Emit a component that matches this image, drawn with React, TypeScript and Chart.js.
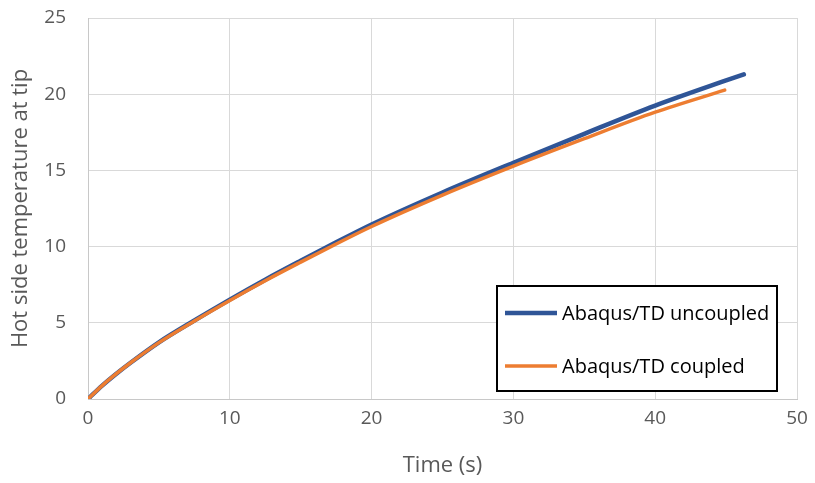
import React, { useEffect, useRef } from "react";
import { Chart, registerables } from "chart.js";

Chart.register(...registerables);

const timeUncoupled = [0, 1, 2, 3, 5, 7.5, 10, 12.5, 15, 17.5, 20, 25, 30, 35, 40, 45, 46.25];
const tempUncoupled = [0, 0.88, 1.66, 2.38, 3.72, 5.15, 6.52, 7.83, 9.07, 10.28, 11.45, 13.55, 15.5, 17.4, 19.25, 20.9, 21.3];

const timeCoupled = [0, 1, 2, 3, 5, 7.5, 10, 12.5, 15, 17.5, 20, 25, 30, 35, 40, 44.9];
const tempCoupled = [0, 0.88, 1.66, 2.38, 3.7, 5.12, 6.47, 7.76, 8.98, 10.17, 11.32, 13.38, 15.28, 17.08, 18.82, 20.27];

const seriesLabels = ["Abaqus/TD uncoupled", "Abaqus/TD coupled"];
const seriesColors = ["#2F5597", "#ED7D31"];

const xTitle = "Time (s)";
const yTitle = "Hot side temperature at tip";

const FONT = "'Open Sans', 'Noto Sans', sans-serif";

const boxLegend = {
  id: "boxLegend",
  afterDraw(chart: any) {
    const { ctx, chartArea } = chart;
    const w = 280;
    const h = 105;
    const right = chartArea.right - 20;
    const bottom = chartArea.bottom - 8;
    const left = right - w;
    const top = bottom - h;
    ctx.save();
    ctx.fillStyle = "#FFFFFF";
    ctx.fillRect(left, top, w, h);
    ctx.strokeStyle = "#000000";
    ctx.lineWidth = 2;
    ctx.strokeRect(left, top, w, h);
    const rows = [27, 80];
    chart.data.datasets.forEach((ds: any, i: number) => {
      const y = top + rows[i];
      ctx.beginPath();
      ctx.strokeStyle = ds.borderColor;
      ctx.lineWidth = ds.borderWidth;
      ctx.lineCap = "butt";
      ctx.moveTo(left + 8, y);
      ctx.lineTo(left + 60, y);
      ctx.stroke();
      ctx.fillStyle = "#000000";
      ctx.font = `20px ${FONT}`;
      ctx.textBaseline = "middle";
      ctx.textAlign = "left";
      ctx.fillText(ds.label, left + 65, y + 1);
    });
    ctx.restore();
  },
};

export default function App() {
  const canvasRef = useRef<HTMLCanvasElement | null>(null);

  useEffect(() => {
    const canvas = canvasRef.current;
    if (!canvas) return;
    const toPoints = (xs: number[], ys: number[]) => xs.map((x, i) => ({ x, y: ys[i] }));
    const chart = new Chart(canvas, {
      type: "line",
      data: {
        datasets: [
          {
            label: seriesLabels[0],
            data: toPoints(timeUncoupled, tempUncoupled),
            borderColor: seriesColors[0],
            backgroundColor: seriesColors[0],
            borderWidth: 4.5,
            pointRadius: 0,
            cubicInterpolationMode: "monotone",
            borderCapStyle: "round",
            order: 1,
          },
          {
            label: seriesLabels[1],
            data: toPoints(timeCoupled, tempCoupled),
            borderColor: seriesColors[1],
            backgroundColor: seriesColors[1],
            borderWidth: 3.5,
            pointRadius: 0,
            cubicInterpolationMode: "monotone",
            borderCapStyle: "round",
            order: 0,
          },
        ],
      },
      options: {
        responsive: false,
        animation: false,
        layout: { padding: { top: 18, right: 18, left: 0, bottom: 0 } },
        plugins: {
          legend: { display: false },
          tooltip: { enabled: false },
        },
        scales: {
          x: {
            type: "linear",
            min: 0,
            max: 50,
            ticks: {
              stepSize: 10,
              color: "#595959",
              font: { family: FONT, size: 19 },
              padding: 0,
              maxRotation: 0,
            },
            grid: {
              color: "#D9D9D9",
              lineWidth: 1,
              drawTicks: true,
              tickLength: 8,
              tickColor: "rgba(0,0,0,0)",
            },
            border: { color: "#C8C8C8", width: 1 },
            title: {
              display: true,
              text: xTitle,
              color: "#595959",
              font: { family: FONT, size: 22 },
              padding: { top: 0, bottom: 4 },
            },
            afterFit: (scale: any) => {
              scale.height = 84;
            },
          },
          y: {
            type: "linear",
            min: 0,
            max: 25,
            ticks: {
              stepSize: 5,
              color: "#595959",
              font: { family: FONT, size: 19 },
              padding: 0,
            },
            grid: {
              color: "#D9D9D9",
              lineWidth: 1,
              drawTicks: true,
              tickLength: 22,
              tickColor: "rgba(0,0,0,0)",
            },
            border: { color: "#C8C8C8", width: 1 },
            title: {
              display: true,
              text: yTitle,
              color: "#595959",
              font: { family: FONT, size: 22 },
              padding: { top: 8, bottom: 0 },
            },
            afterFit: (scale: any) => {
              scale.width = 88;
            },
          },
        },
      },
      plugins: [boxLegend],
    } as any);
    return () => chart.destroy();
  }, []);

  return (
    <div style={{ position: "absolute", left: 0, top: 0, width: 815, height: 483, background: "#FFFFFF" }}>
      <canvas ref={canvasRef} width={815} height={483} />
    </div>
  );
}
